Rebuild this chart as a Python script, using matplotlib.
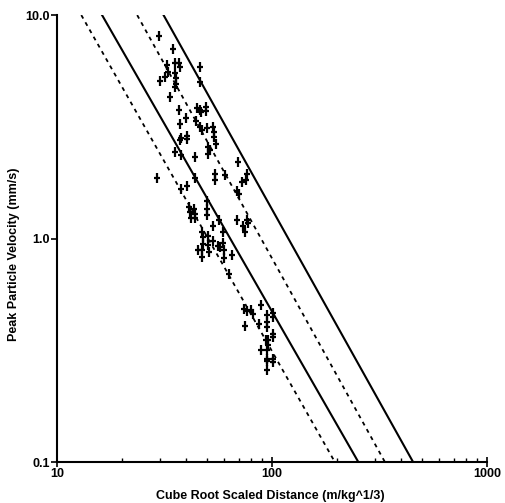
import matplotlib
matplotlib.use("Agg")
import matplotlib.pyplot as plt
from matplotlib.path import Path
from matplotlib.ticker import LogLocator, FixedLocator, NullFormatter, NullLocator

plt.rcParams['font.family'] = ['Liberation Sans', 'DejaVu Sans']

# Scaled distance (m/kg^1/3) and peak particle velocity (mm/s) of the observations
sd = [29.7, 34.7, 35.2, 37.1, 37.4, 32.4, 33.0, 31.8, 30.0, 35.4, 35.7, 35.8, 35.4,
      46.0, 46.0, 33.6, 37.1, 39.9, 37.4, 37.7, 37.4, 40.4, 40.4, 35.4, 37.9, 43.9,
      44.7, 46.0, 46.8, 49.4, 49.4, 44.4, 46.0, 47.1, 49.7, 53.4, 53.8, 53.8, 50.6,
      51.5, 50.6, 55.0,
      29.3, 37.7, 40.2, 43.9, 54.4, 54.4, 60.5, 69.8, 76.2, 75.7, 72.3, 69.0, 70.5,
      41.3, 41.6, 41.9, 43.4, 43.9, 43.9, 50.1, 50.1, 50.1, 69.0, 76.2, 77.6, 73.6,
      74.9, 53.0, 56.9, 59.0, 47.1, 48.0, 47.6, 47.1, 45.5, 47.1, 50.6, 50.6, 51.0,
      53.4, 55.8, 57.4, 59.4, 59.8, 59.8, 65.4, 62.9,
      74.1, 76.2, 79.6, 81.3, 88.6, 95.1, 101.4, 101.4, 87.4, 74.9, 95.1, 95.1,
      101.4, 101.4, 93.8, 96.2, 88.6, 96.2, 95.1, 95.1, 95.1, 101.4, 101.4, 95.1]
ppv = [8.05, 7.02, 6.12, 6.12, 5.87, 5.97, 5.57, 5.30, 5.07, 5.48, 5.21, 4.94, 4.77,
       5.87, 5.03, 4.31, 3.75, 3.45, 3.24, 2.82, 2.75, 2.88, 2.78, 2.44, 2.36, 2.32,
       3.85, 3.75, 3.69, 3.89, 3.72, 3.35, 3.16, 3.06, 3.11, 3.16, 3.00, 2.85, 2.57,
       2.49, 2.40, 2.64,
       1.86, 1.67, 1.72, 1.86, 1.94, 1.82, 1.92, 2.20, 1.94, 1.82, 1.79, 1.64, 1.59,
       1.39, 1.32, 1.23, 1.36, 1.29, 1.23, 1.48, 1.36, 1.27, 1.21, 1.21, 1.17, 1.14,
       1.07, 1.14, 1.21, 1.07, 1.07, 1.02, 0.950, 0.887, 0.887, 0.828, 1.03, 0.934, 0.872,
       0.977, 0.924, 0.918, 0.960, 0.887, 0.822, 0.848, 0.692,
       0.486, 0.474, 0.478, 0.458, 0.503, 0.454, 0.446, 0.465, 0.416, 0.405, 0.423, 0.402,
       0.375, 0.363, 0.353, 0.350, 0.318, 0.333, 0.316, 0.290, 0.283, 0.290, 0.280, 0.257]

# Attenuation lines: scaled distance where each line reaches PPV = 10 and PPV = 0.1
line_ppv = [10.0, 0.1]
line_sd_top = [12.97, 16.2, 23.6, 31.3]
line_sd_bottom = [196.0, 252.0, 335.0, 453.0]
line_styles = ['dashed', 'solid', 'dashed', 'solid']

x_ticks = [10, 100, 1000]
x_tick_labels = ['10', '100', '1000']
y_ticks = [0.1, 1.0, 10.0]
y_tick_labels = ['0.1', '1.0', '10.0']

fig = plt.figure(figsize=(5.05, 5.03), dpi=100)
ax = fig.add_axes([0.1129, 0.0815, 0.8515, 0.8885])

for top, bot, st in zip(line_sd_top, line_sd_bottom, line_styles):
    if st == 'dashed':
        ax.plot([top, bot], line_ppv, color='black', lw=1.3, linestyle=(0, (2.2, 2.4)))
    else:
        ax.plot([top, bot], line_ppv, color='black', lw=1.5, linestyle='-')

marker = Path([(0, -1), (0, 1), (-0.6, 0.05), (0.6, 0.05)],
              [Path.MOVETO, Path.LINETO, Path.MOVETO, Path.LINETO])
ax.plot(sd, ppv, linestyle='none', marker=marker, markersize=6.5, mew=1.6,
        mec='black', mfc='black')

ax.set_xscale('log')
ax.set_yscale('log')
ax.set_xlim(10, 1000)
ax.set_ylim(0.1, 10)

for s in ['top', 'right']:
    ax.spines[s].set_visible(False)
for s in ['left', 'bottom']:
    ax.spines[s].set_linewidth(1.5)

ax.xaxis.set_major_locator(FixedLocator(x_ticks))
ax.set_xticklabels(x_tick_labels)
ax.yaxis.set_major_locator(FixedLocator(y_ticks))
ax.set_yticklabels(y_tick_labels)
ax.xaxis.set_minor_locator(LogLocator(base=10, subs=range(2, 10)))
ax.xaxis.set_minor_formatter(NullFormatter())
ax.yaxis.set_minor_locator(NullLocator())

ax.tick_params(axis='x', which='major', direction='inout', length=7, width=1.2,
               labelsize=9, pad=1)
ax.tick_params(axis='x', which='minor', direction='in', length=3, width=1.0)
ax.tick_params(axis='y', which='major', direction='out', length=4, width=1.2,
               labelsize=9, pad=1)
for lab in ax.get_xticklabels() + ax.get_yticklabels():
    lab.set_fontweight('bold')

ax.set_xlabel('Cube Root Scaled Distance (m/kg^1/3)', fontsize=9, fontweight='bold')
ax.set_ylabel('Peak Particle Velocity (mm/s)', fontsize=9, fontweight='bold')
ax.xaxis.set_label_coords(0.495, -0.063)
ax.yaxis.set_label_coords(-0.086, 0.465)

fig.savefig('out.png', dpi=100)
